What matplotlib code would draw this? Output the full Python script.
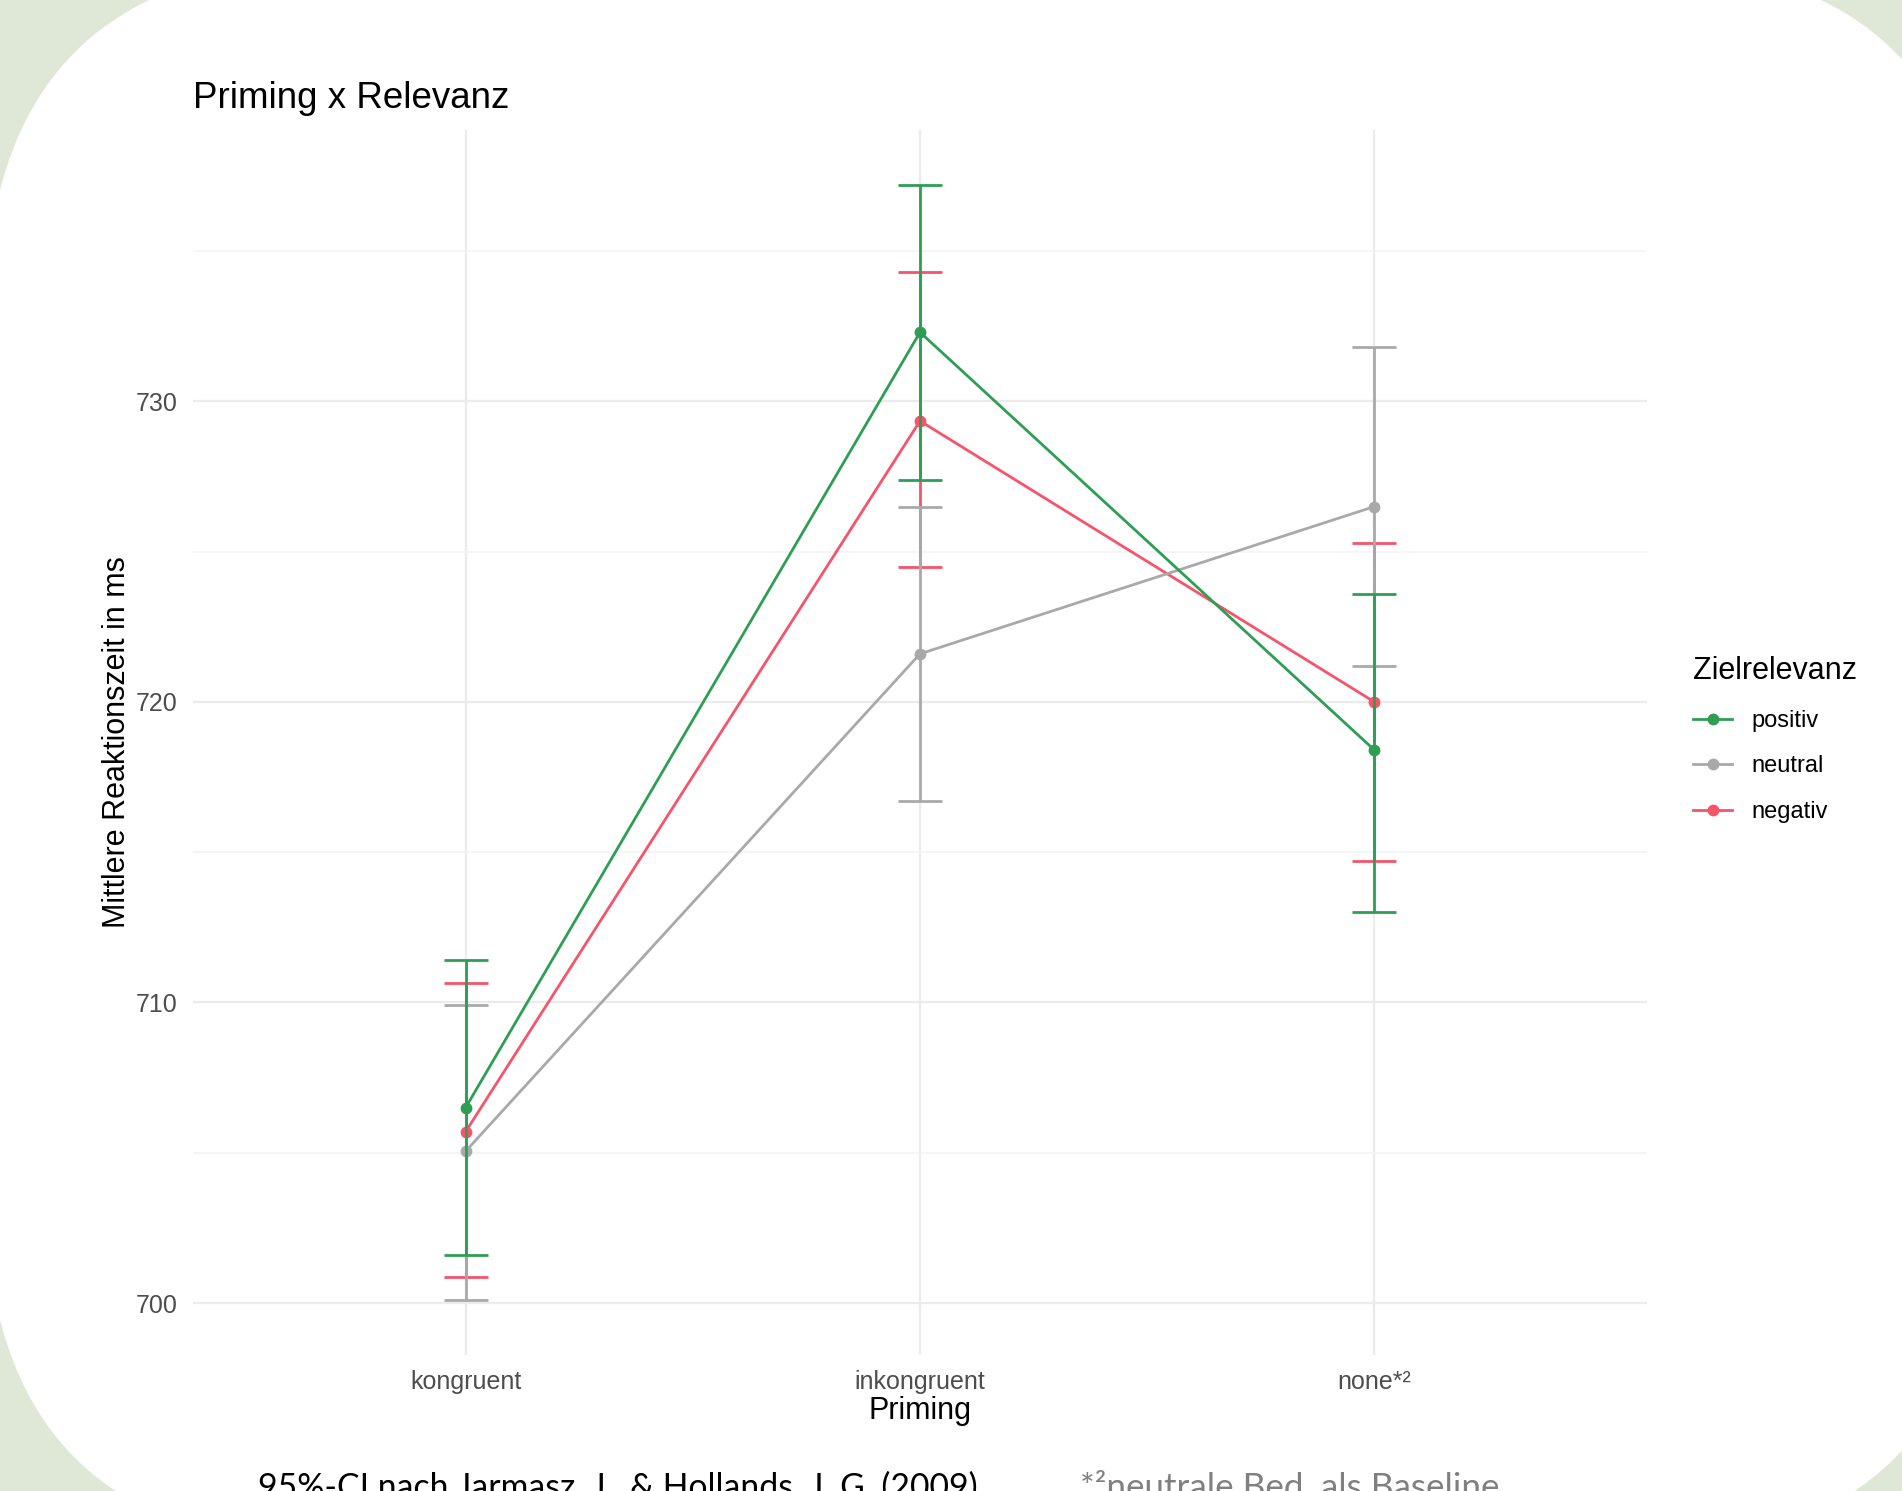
import matplotlib
matplotlib.use("Agg")
import matplotlib.pyplot as plt
from matplotlib.patches import FancyBboxPatch
from matplotlib.ticker import MultipleLocator

plt.rcParams["font.family"] = ["Liberation Sans", "DejaVu Sans"]

# data (means and 95%-CI bounds in ms)
categories = ["kongruent", "inkongruent", "none*²"]
groups = ["positiv", "neutral", "negativ"]

positiv_mean = [706.5, 732.3, 718.4]
positiv_lo = [701.6, 727.4, 713.0]
positiv_hi = [711.4, 737.2, 723.6]

neutral_mean = [705.05, 721.6, 726.5]
neutral_lo = [700.1, 716.7, 721.2]
neutral_hi = [709.9, 726.5, 731.8]

negativ_mean = [705.7, 729.35, 720.0]
negativ_lo = [700.85, 724.5, 714.7]
negativ_hi = [710.65, 734.3, 725.3]

y_ticks = [700, 710, 720, 730]

colors = {"positiv": "#2E9E55", "neutral": "#A9A9A9", "negativ": "#F6546A"}

W, H, DPI = 1902, 1491, 100
fig = plt.figure(figsize=(W / DPI, H / DPI), dpi=DPI)
fig.patch.set_facecolor("#DFE7D6")

# white rounded card behind the chart
bg = fig.add_axes([0, 0, 1, 1], zorder=-1)
bg.set_xlim(0, W)
bg.set_ylim(H, 0)
bg.axis("off")
bg.add_patch(FancyBboxPatch((-15, -38), 2000, 1586,
                            boxstyle="round,pad=0,rounding_size=360",
                            facecolor="white", edgecolor="none"))

ax = fig.add_axes([193 / W, 1 - 1355 / H, 1454 / W, 1225 / H])
ax.set_facecolor("none")

x = [1, 2, 3]
series = {
    "positiv": (positiv_mean, positiv_lo, positiv_hi),
    "neutral": (neutral_mean, neutral_lo, neutral_hi),
    "negativ": (negativ_mean, negativ_lo, negativ_hi),
}

handles = {}
# red drawn first, green on top
for z, name in enumerate(["negativ", "neutral", "positiv"]):
    m, lo, hi = series[name]
    yerr = [[mi - l for mi, l in zip(m, lo)], [h - mi for mi, h in zip(m, hi)]]
    eb = ax.errorbar(x, m, yerr=yerr, fmt="-o", color=colors[name], lw=2.0,
                     ms=7.5, elinewidth=2.0, capsize=16, capthick=2.0,
                     zorder=3 + z, label=name)
    handles[name] = eb.lines[0]

ax.set_xlim(0.4, 3.6)
ax.set_ylim(698.27, 739.03)
ax.set_xticks(x)
ax.set_xticklabels(categories)
ax.set_yticks(y_ticks)
ax.yaxis.set_minor_locator(MultipleLocator(5))

ax.grid(which="major", color="#EBEBEB", lw=1.6, zorder=0)
ax.grid(which="minor", axis="y", color="#F2F2F2", lw=1.1, zorder=0)
ax.set_axisbelow(True)
for s in ax.spines.values():
    s.set_visible(False)
ax.tick_params(which="both", length=0, pad=11, labelsize=18, labelcolor="#4D4D4D")

ax.set_xlabel("Priming", fontsize=22)
ax.xaxis.label.set_va("center")
ax.xaxis.set_label_coords(0.5, -0.0457)
ax.set_ylabel("Mittlere Reaktionszeit in ms", fontsize=22)
ax.yaxis.label.set_va("center")
ax.yaxis.set_label_coords(-0.052, 0.5)

fig.text(193 / W, 1 - 99 / H, "Priming x Relevanz", fontsize=26.5,
         ha="left", va="center")

leg = fig.legend([handles[g] for g in groups], groups,
                 title="Zielrelevanz", loc="upper left",
                 bbox_to_anchor=(1672 / W, 1 - 635 / H), frameon=False,
                 fontsize=17, title_fontsize=22, handlelength=1.65,
                 handletextpad=0.8, labelspacing=1.0, numpoints=1)
leg._legend_box.align = "left"

fig.text(258 / W, 1 - 1498 / H, "95%-CI nach Jarmasz, J., & Hollands, J. G. (2009)",
         fontsize=24.3, family=["Lato", "DejaVu Sans"], ha="left", va="baseline",
         color="black")
fig.text(1080 / W, 1 - 1498 / H, "*²neutrale Bed. als Baseline",
         fontsize=25.2, family=["Lato", "DejaVu Sans"], ha="left", va="baseline",
         color="#808080")

fig.savefig("out.png", dpi=DPI)
